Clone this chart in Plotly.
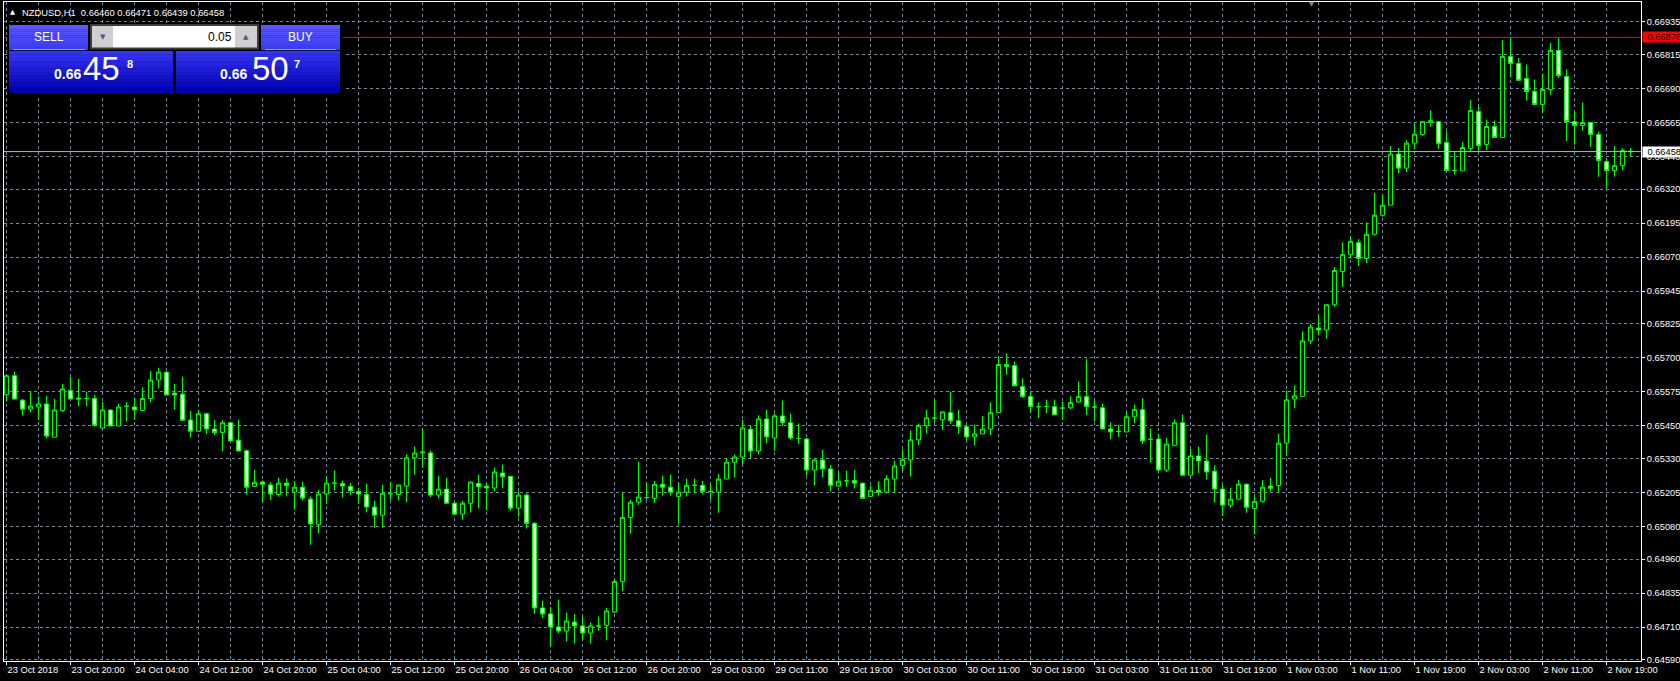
import plotly.graph_objects as go

# ---------------- data (NZDUSD, H1) ----------------
symbol = "NZDUSD,H1"

opens = [
    0.65564, 0.65634, 0.65544, 0.65511, 0.65519, 0.65530, 0.65408, 0.65506, 0.65580, 0.65552,
    0.65550, 0.65550, 0.65441, 0.65508, 0.65449, 0.65520, 0.65519, 0.65506, 0.65550, 0.65618,
    0.65647, 0.65570, 0.65566, 0.65471, 0.65430, 0.65494, 0.65438, 0.65425, 0.65461, 0.65397,
    0.65358, 0.65227, 0.65243, 0.65232, 0.65197, 0.65239, 0.65206, 0.65224, 0.65180, 0.65086,
    0.65199, 0.65239, 0.65238, 0.65227, 0.65208, 0.65197, 0.65151, 0.65121, 0.65200, 0.65197,
    0.65228, 0.65332, 0.65350, 0.65350, 0.65195, 0.65217, 0.65165, 0.65125, 0.65165, 0.65238,
    0.65228, 0.65221, 0.65276, 0.65264, 0.65147, 0.65195, 0.65091, 0.64780, 0.64758, 0.64710,
    0.64695, 0.64728, 0.64714, 0.64688, 0.64714, 0.64716, 0.64765, 0.64877, 0.65113, 0.65169,
    0.65186, 0.65183, 0.65235, 0.65224, 0.65190, 0.65206, 0.65231, 0.65231, 0.65209, 0.65206,
    0.65254, 0.65316, 0.65335, 0.65437, 0.65357, 0.65475, 0.65405, 0.65486, 0.65461, 0.65403,
    0.65401, 0.65287, 0.65324, 0.65291, 0.65228, 0.65247, 0.65249, 0.65239, 0.65190, 0.65213,
    0.65206, 0.65254, 0.65304, 0.65324, 0.65398, 0.65450, 0.65478, 0.65472, 0.65498, 0.65468,
    0.65446, 0.65409, 0.65420, 0.65438, 0.65498, 0.65675, 0.65671, 0.65594, 0.65557, 0.65520,
    0.65521, 0.65520, 0.65515, 0.65516, 0.65537, 0.65557, 0.65519, 0.65516, 0.65438, 0.65429,
    0.65427, 0.65483, 0.65509, 0.65400, 0.65401, 0.65287, 0.65378, 0.65461, 0.65268, 0.65339,
    0.65320, 0.65283, 0.65217, 0.65158, 0.65180, 0.65235, 0.65146, 0.65172, 0.65228, 0.65230,
    0.65386, 0.65548, 0.65558, 0.65762, 0.65809, 0.65802, 0.65895, 0.66017, 0.66079, 0.66123,
    0.66065, 0.66154, 0.66224, 0.66261, 0.66449, 0.66397, 0.66489, 0.66521, 0.66564, 0.66568,
    0.66491, 0.66389, 0.66387, 0.66469, 0.66605, 0.66484, 0.66550, 0.66510, 0.66808, 0.66782,
    0.66727, 0.66679, 0.66631, 0.66686, 0.66830, 0.66734, 0.66568, 0.66554, 0.66565, 0.66521,
    0.66421, 0.66388, 0.66406, 0.66460,
]
highs = [
    0.65634, 0.65649, 0.65548, 0.65577, 0.65558, 0.65560, 0.65548, 0.65604, 0.65629, 0.65622,
    0.65575, 0.65563, 0.65538, 0.65509, 0.65531, 0.65537, 0.65553, 0.65592, 0.65651, 0.65663,
    0.65649, 0.65604, 0.65630, 0.65505, 0.65509, 0.65498, 0.65471, 0.65470, 0.65462, 0.65472,
    0.65362, 0.65288, 0.65249, 0.65242, 0.65259, 0.65256, 0.65246, 0.65244, 0.65190, 0.65215,
    0.65262, 0.65285, 0.65248, 0.65239, 0.65222, 0.65237, 0.65174, 0.65233, 0.65244, 0.65233,
    0.65344, 0.65374, 0.65437, 0.65359, 0.65266, 0.65259, 0.65170, 0.65174, 0.65244, 0.65270,
    0.65239, 0.65296, 0.65307, 0.65265, 0.65208, 0.65202, 0.65096, 0.64807, 0.64783, 0.64811,
    0.64763, 0.64758, 0.64748, 0.64727, 0.64748, 0.64780, 0.64885, 0.65204, 0.65178, 0.65318,
    0.65239, 0.65247, 0.65266, 0.65270, 0.65240, 0.65255, 0.65255, 0.65247, 0.65235, 0.65272,
    0.65331, 0.65344, 0.65472, 0.65450, 0.65488, 0.65509, 0.65495, 0.65543, 0.65495, 0.65458,
    0.65405, 0.65332, 0.65362, 0.65305, 0.65280, 0.65284, 0.65288, 0.65240, 0.65230, 0.65246,
    0.65268, 0.65321, 0.65363, 0.65432, 0.65458, 0.65509, 0.65543, 0.65502, 0.65575, 0.65509,
    0.65454, 0.65454, 0.65486, 0.65536, 0.65702, 0.65716, 0.65686, 0.65624, 0.65575, 0.65536,
    0.65546, 0.65546, 0.65539, 0.65558, 0.65613, 0.65695, 0.65543, 0.65531, 0.65462, 0.65454,
    0.65499, 0.65528, 0.65551, 0.65440, 0.65420, 0.65405, 0.65473, 0.65491, 0.65365, 0.65373,
    0.65417, 0.65305, 0.65231, 0.65222, 0.65250, 0.65238, 0.65188, 0.65250, 0.65259, 0.65421,
    0.65579, 0.65598, 0.65797, 0.65824, 0.65856, 0.65895, 0.66033, 0.66124, 0.66146, 0.66136,
    0.66198, 0.66306, 0.66299, 0.66478, 0.66471, 0.66500, 0.66560, 0.66571, 0.66610, 0.66571,
    0.66532, 0.66457, 0.66494, 0.66647, 0.66623, 0.66576, 0.66572, 0.66868, 0.66880, 0.66802,
    0.66778, 0.66723, 0.66745, 0.66857, 0.66875, 0.66760, 0.66605, 0.66638, 0.66565, 0.66532,
    0.66431, 0.66478, 0.66470, 0.66471,
]
lows = [
    0.65539, 0.65548, 0.65487, 0.65499, 0.65470, 0.65403, 0.65408, 0.65501, 0.65548, 0.65521,
    0.65521, 0.65447, 0.65441, 0.65449, 0.65449, 0.65465, 0.65472, 0.65503, 0.65536, 0.65587,
    0.65563, 0.65509, 0.65467, 0.65406, 0.65428, 0.65420, 0.65416, 0.65356, 0.65394, 0.65357,
    0.65196, 0.65227, 0.65168, 0.65177, 0.65189, 0.65190, 0.65141, 0.65175, 0.65012, 0.65054,
    0.65163, 0.65212, 0.65186, 0.65194, 0.65163, 0.65131, 0.65075, 0.65075, 0.65178, 0.65175,
    0.65168, 0.65270, 0.65295, 0.65188, 0.65183, 0.65165, 0.65121, 0.65104, 0.65131, 0.65146,
    0.65139, 0.65208, 0.65220, 0.65138, 0.65116, 0.65072, 0.64758, 0.64743, 0.64637, 0.64687,
    0.64657, 0.64649, 0.64662, 0.64649, 0.64696, 0.64661, 0.64762, 0.64842, 0.65053, 0.65159,
    0.65178, 0.65167, 0.65193, 0.65193, 0.65090, 0.65190, 0.65201, 0.65197, 0.65178, 0.65130,
    0.65254, 0.65260, 0.65308, 0.65330, 0.65345, 0.65385, 0.65357, 0.65450, 0.65398, 0.65383,
    0.65267, 0.65230, 0.65260, 0.65208, 0.65224, 0.65225, 0.65219, 0.65183, 0.65190, 0.65193,
    0.65201, 0.65201, 0.65284, 0.65263, 0.65378, 0.65422, 0.65463, 0.65435, 0.65457, 0.65420,
    0.65397, 0.65378, 0.65420, 0.65415, 0.65498, 0.65637, 0.65595, 0.65552, 0.65498, 0.65478,
    0.65495, 0.65490, 0.65470, 0.65511, 0.65533, 0.65489, 0.65467, 0.65438, 0.65400, 0.65408,
    0.65427, 0.65459, 0.65383, 0.65315, 0.65282, 0.65280, 0.65374, 0.65268, 0.65268, 0.65275,
    0.65252, 0.65167, 0.65117, 0.65149, 0.65180, 0.65130, 0.65050, 0.65167, 0.65208, 0.65202,
    0.65339, 0.65514, 0.65556, 0.65750, 0.65782, 0.65770, 0.65887, 0.65960, 0.66064, 0.66038,
    0.66048, 0.66149, 0.66219, 0.66261, 0.66379, 0.66382, 0.66466, 0.66516, 0.66549, 0.66468,
    0.66388, 0.66374, 0.66387, 0.66457, 0.66460, 0.66464, 0.66510, 0.66510, 0.66731, 0.66720,
    0.66645, 0.66631, 0.66600, 0.66667, 0.66729, 0.66497, 0.66483, 0.66534, 0.66475, 0.66365,
    0.66324, 0.66366, 0.66390, 0.66439,
]
closes = [
    0.65634, 0.65548, 0.65511, 0.65522, 0.65530, 0.65412, 0.65508, 0.65585, 0.65548, 0.65548,
    0.65550, 0.65452, 0.65508, 0.65449, 0.65519, 0.65522, 0.65508, 0.65550, 0.65618, 0.65647,
    0.65563, 0.65563, 0.65470, 0.65430, 0.65494, 0.65438, 0.65425, 0.65461, 0.65394, 0.65357,
    0.65224, 0.65242, 0.65235, 0.65199, 0.65239, 0.65230, 0.65224, 0.65184, 0.65089, 0.65199,
    0.65239, 0.65239, 0.65228, 0.65210, 0.65199, 0.65151, 0.65121, 0.65202, 0.65200, 0.65232,
    0.65332, 0.65350, 0.65353, 0.65195, 0.65217, 0.65165, 0.65125, 0.65165, 0.65243, 0.65225,
    0.65221, 0.65280, 0.65262, 0.65147, 0.65195, 0.65091, 0.64780, 0.64758, 0.64710, 0.64695,
    0.64732, 0.64714, 0.64688, 0.64714, 0.64714, 0.64769, 0.64877, 0.65113, 0.65169, 0.65188,
    0.65186, 0.65235, 0.65224, 0.65206, 0.65206, 0.65231, 0.65231, 0.65209, 0.65208, 0.65254,
    0.65316, 0.65335, 0.65442, 0.65357, 0.65475, 0.65409, 0.65486, 0.65461, 0.65405, 0.65403,
    0.65287, 0.65324, 0.65291, 0.65231, 0.65246, 0.65247, 0.65239, 0.65183, 0.65213, 0.65206,
    0.65255, 0.65302, 0.65325, 0.65398, 0.65450, 0.65479, 0.65478, 0.65501, 0.65468, 0.65446,
    0.65409, 0.65420, 0.65438, 0.65498, 0.65675, 0.65668, 0.65597, 0.65557, 0.65520, 0.65520,
    0.65521, 0.65490, 0.65515, 0.65535, 0.65557, 0.65520, 0.65519, 0.65438, 0.65427, 0.65429,
    0.65483, 0.65509, 0.65394, 0.65400, 0.65287, 0.65383, 0.65461, 0.65268, 0.65339, 0.65320,
    0.65280, 0.65217, 0.65158, 0.65180, 0.65235, 0.65150, 0.65172, 0.65224, 0.65220, 0.65386,
    0.65545, 0.65560, 0.65762, 0.65813, 0.65802, 0.65895, 0.66021, 0.66079, 0.66128, 0.66065,
    0.66154, 0.66224, 0.66261, 0.66449, 0.66397, 0.66489, 0.66522, 0.66568, 0.66572, 0.66487,
    0.66388, 0.66388, 0.66473, 0.66609, 0.66480, 0.66550, 0.66510, 0.66808, 0.66782, 0.66720,
    0.66679, 0.66631, 0.66686, 0.66830, 0.66737, 0.66568, 0.66554, 0.66565, 0.66521, 0.66425,
    0.66388, 0.66406, 0.66462, 0.66458,
]

time_labels = [
    "23 Oct 2018", "23 Oct 20:00", "24 Oct 04:00", "24 Oct 12:00", "24 Oct 20:00",
    "25 Oct 04:00", "25 Oct 12:00", "25 Oct 20:00", "26 Oct 04:00", "26 Oct 12:00",
    "26 Oct 20:00", "29 Oct 03:00", "29 Oct 11:00", "29 Oct 19:00", "30 Oct 03:00",
    "30 Oct 11:00", "30 Oct 19:00", "31 Oct 03:00", "31 Oct 11:00", "31 Oct 19:00",
    "1 Nov 03:00", "1 Nov 11:00", "1 Nov 19:00", "2 Nov 03:00", "2 Nov 11:00", "2 Nov 19:00",
]
price_labels = [
    0.66935, 0.66815, 0.66690, 0.66565, 0.66440, 0.66320, 0.66195, 0.66070, 0.65945, 0.65825,
    0.65700, 0.65575, 0.65450, 0.65330, 0.65205, 0.65080, 0.64960, 0.64835, 0.64710, 0.64590,
]
bid_price = 0.66458
ask_price = 0.66507
lot_size = "0.05"
alert_level = 0.66878

# ---------------- helpers / styling ----------------
bars = list(range(len(opens)))
label_bars = [8 * k for k in range(len(time_labels))]
minor_bars = list(range(4, len(opens), 8))

GREEN = "#00FF00"
GRID = "#778899"
FONT = "Liberation Sans, Arial, DejaVu Sans, sans-serif"
W, H = 1680, 681
PL, PR, PT, PB = 4, 1641, 2, 661


def fx(p):
    return (p - PL) / (PR - PL)


def fy(p):
    return (PB - p) / (PB - PT)


fig = go.Figure(go.Candlestick(
    x=bars, open=opens, high=highs, low=lows, close=closes,
    increasing=dict(line=dict(color=GREEN, width=1), fillcolor="#000000"),
    decreasing=dict(line=dict(color=GREEN, width=1), fillcolor="#FFFFFF"),
    whiskerwidth=0, hoverinfo="skip", showlegend=False,
))

shapes = []
annotations = []

# horizontal price lines
shapes.append(dict(type="line", xref="x domain", x0=0, x1=1, yref="y",
                   y0=alert_level, y1=alert_level, line=dict(color="#FF0000", width=1)))
shapes.append(dict(type="line", xref="x domain", x0=0, x1=1, yref="y",
                   y0=bid_price, y1=bid_price, line=dict(color="#B8B8B8", width=1)))


def rect(x0, y0, x1, y1, color):
    shapes.append(dict(type="rect", xref="paper", yref="paper",
                       x0=fx(x0), x1=fx(x1), y0=fy(y1), y1=fy(y0),
                       fillcolor=color, line=dict(width=0), layer="above"))


def hexrgb(c):
    return tuple(int(c[i:i + 2], 16) for i in (1, 3, 5))


def grad(x0, y0, x1, y1, c_top, c_bot, n=12):
    a, b = hexrgb(c_top), hexrgb(c_bot)
    for k in range(n):
        t = k / (n - 1)
        col = "#%02X%02X%02X" % tuple(round(a[j] + (b[j] - a[j]) * t) for j in range(3))
        rect(x0, y0 + (y1 - y0) * k / n, x1, y0 + (y1 - y0) * (k + 1) / n + 0.3, col)


def text(x, y, s, size, color="#FFFFFF", xanchor="center", yanchor="middle", bold=False, font=FONT):
    annotations.append(dict(xref="paper", yref="paper", x=fx(x), y=fy(y), text=("<b>%s</b>" % s) if bold else s,
                            showarrow=False, xanchor=xanchor, yanchor=yanchor,
                            font=dict(size=size, color=color, family=font), borderpad=0))


# ---- one-click trading panel ----
rect(7, 23, 343, 95, "#000000")
grad(9, 25, 88, 50, "#5A5AFF", "#3A3AEE")
grad(261, 25, 340, 50, "#5A5AFF", "#3A3AEE")
rect(13, 49, 85, 50, "#9A9AFF")
rect(265, 49, 336, 50, "#9A9AFF")
grad(9, 51, 173, 93, "#3434F4", "#0000B2")
grad(176, 51, 340, 93, "#3434F4", "#0000B2")
rect(90, 24, 259, 49.5, "#3C3C3C")
rect(92, 26, 113, 47.5, "#CFCFCF")
rect(113, 26, 235, 47.5, "#FFFFFF")
rect(235, 26, 257, 47.5, "#CFCFCF")

text(48.5, 36.5, "SELL", 12)
text(300.5, 36.5, "BUY", 12)
text(233, 36.5, lot_size, 12, color="#000000", xanchor="right")
text(102.5, 36.5, "▼", 7, color="#4A5A86", font="DejaVu Sans")
text(246.5, 36.5, "▲", 7, color="#4A5A86", font="DejaVu Sans")

for s, x_pre, x_big, x_frac in ((f"{bid_price:.5f}", 52.5, 82, 125.5),
                                (f"{ask_price:.5f}", 218.5, 251, 292.5)):
    text(x_pre, 74.5, s[:4], 14, xanchor="left", bold=True)
    text(x_big, 68.5, s[4:6], 33, xanchor="left")
    text(x_frac, 64, s[6:], 11, xanchor="left", bold=True)

# ---- header ----
text(12.5, 12, "▲", 6.5, font="DejaVu Sans")
text(21, 13, f"{symbol}\u00a0\u00a0{opens[-1]:.5f} {highs[-1]:.5f} {lows[-1]:.5f} {closes[-1]:.5f}",
     9.4, xanchor="left")
# chart shift marker
text(1311, 4.5, "▼", 6.5, color="#8A8A8A", font="DejaVu Sans")

# ---- price labels on the right scale ----
for lvl, bg in ((alert_level, "#FF0000"), (bid_price, "#FFFFFF")):
    annotations.append(dict(xref="paper", x=1, xanchor="left", xshift=1, yref="y", y=lvl,
                            yanchor="middle", text=f"{lvl:.5f}", showarrow=False,
                            bgcolor=bg, width=38, height=10, align="right", borderpad=0,
                            font=dict(size=9.3, color="#000000", family=FONT)))

axis_font = dict(size=9.3, color="#FFFFFF", family=FONT)

fig.update_layout(
    width=W, height=H,
    margin=dict(l=PL, r=W - PR, t=PT, b=H - PB, pad=0, autoexpand=False),
    paper_bgcolor="#000000", plot_bgcolor="#000000",
    showlegend=False, boxgap=0.5, boxgroupgap=0,
    shapes=shapes, annotations=annotations,
    xaxis=dict(
        range=[-0.31, len(opens) + 0.31], rangeslider=dict(visible=False),
        tickmode="array", tickvals=label_bars, ticktext=time_labels,
        ticks="outside", ticklen=3, tickcolor="#FFFFFF", tickwidth=1,
        ticklabelposition="outside right", tickfont=axis_font,
        showgrid=True, gridcolor=GRID, gridwidth=1, griddash="3px,3px",
        minor=dict(tickvals=minor_bars, showgrid=True, gridcolor=GRID, gridwidth=1,
                   griddash="3px,3px", ticks=""),
        showline=True, linecolor="#FFFFFF", linewidth=1, mirror=True, zeroline=False,
        fixedrange=True,
    ),
    yaxis=dict(
        side="right", range=[0.64585, 0.67008],
        tickmode="array", tickvals=price_labels, ticktext=[f"{v:.5f}" for v in price_labels],
        ticks="outside", ticklen=3, tickcolor="#FFFFFF", tickwidth=1, tickfont=axis_font,
        showgrid=True, gridcolor=GRID, gridwidth=1, griddash="3px,3px",
        showline=True, linecolor="#FFFFFF", linewidth=1, mirror=True, zeroline=False,
        fixedrange=True,
    ),
)

fig.write_html(
    "out.html",
    config={"displayModeBar": False, "responsive": False},
    post_script=["document.body.style.margin='0px';document.body.style.overflow='hidden';"
                 "document.documentElement.style.background='#000';"],
)
